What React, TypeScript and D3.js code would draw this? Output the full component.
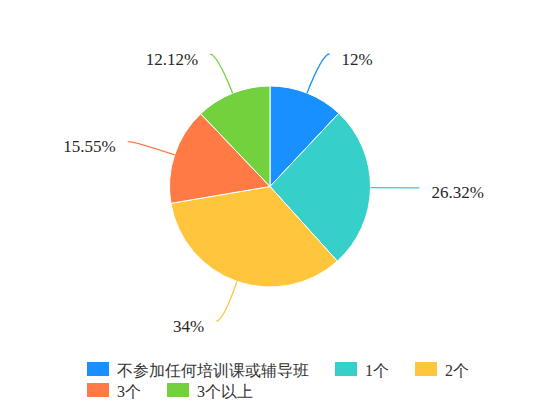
import * as d3 from 'd3'

const categories = ['不参加任何培训课或辅导班', '1个', '2个', '3个', '3个以上']
const values = [12, 26.32, 34, 15.55, 12.12]
const labels = ['12%', '26.32%', '34%', '15.55%', '12.12%']
const colors = ['#1890FF', '#36CFC9', '#FFC53D', '#FF7A45', '#73D13D']

const FONT = 'Liberation Serif'

function measure(text: string, size: number) {
  const ctx = document.createElement('canvas').getContext('2d')
  if (!ctx) return text.length * size
  ctx.font = `${size}px "${FONT}"`
  return ctx.measureText(text).width
}

export default function App() {
  const width = 550
  const height = 418
  const cx = 270
  const cy = 186.5
  const r = 100.5
  const lineR = r + 42
  const tail = 7

  const pie = d3.pie<number>().sort(null).value(d => d)
  const arcs = pie(values)
  const arc = d3.arc<d3.PieArcDatum<number>>().innerRadius(0).outerRadius(r)

  // legend flow layout
  const legendX = 87
  const legendMax = 420
  const markerW = 22
  const markerH = 14
  const fontSize = 16
  let x = legendX
  let row = 0
  const legendItems = categories.map((c, i) => {
    const w = markerW + 8 + measure(c, fontSize)
    if (x + w - legendX > legendMax && x > legendX) {
      row += 1
      x = legendX
    }
    const item = {x, y: 369 + row * 21, c, i}
    x += w + 26
    return item
  })

  return (
    <svg width={width} height={height} style={{position: 'absolute', left: 0, top: 0}}>
      <rect width={width} height={height} fill="#fff" />
      <g transform={`translate(${cx}, ${cy})`}>
        {arcs.map((a, i) => (
          <path key={i} d={arc(a) ?? undefined} fill={colors[i]} stroke="#fff" strokeWidth={1} />
        ))}
        {arcs.map((a, i) => {
          const mid = (a.startAngle + a.endAngle) / 2
          const sx = Math.sin(mid)
          const sy = -Math.cos(mid)
          const right = sx >= 0
          const p0 = [r * sx, r * sy]
          const p1 = [lineR * sx, lineR * sy]
          const p2 = [p1[0] + (right ? tail : -tail), p1[1]]
          const path = d3.path()
          path.moveTo(p0[0], p0[1])
          path.quadraticCurveTo(p1[0], p1[1], p2[0], p2[1])
          return (
            <g key={i}>
              <path d={path.toString()} fill="none" stroke={colors[i]} strokeWidth={1.3} />
              <text
                x={p2[0] + (right ? 12 : -12)}
                y={p2[1] + 5}
                textAnchor={right ? 'start' : 'end'}
                dominantBaseline="central"
                style={{fontFamily: FONT, fontSize: 17}}
                fill="#262626"
              >
                {labels[i]}
              </text>
            </g>
          )
        })}
      </g>
      <g>
        {legendItems.map(item => (
          <g key={item.i} transform={`translate(${item.x}, ${item.y})`}>
            <rect x={0} y={-markerH / 2} width={markerW} height={markerH} fill={colors[item.i]} />
            <text
              x={markerW + 8}
              y={1}
              dominantBaseline="central"
              style={{fontFamily: FONT, fontSize}}
              fill="#333"
            >
              {item.c}
            </text>
          </g>
        ))}
      </g>
    </svg>
  )
}
